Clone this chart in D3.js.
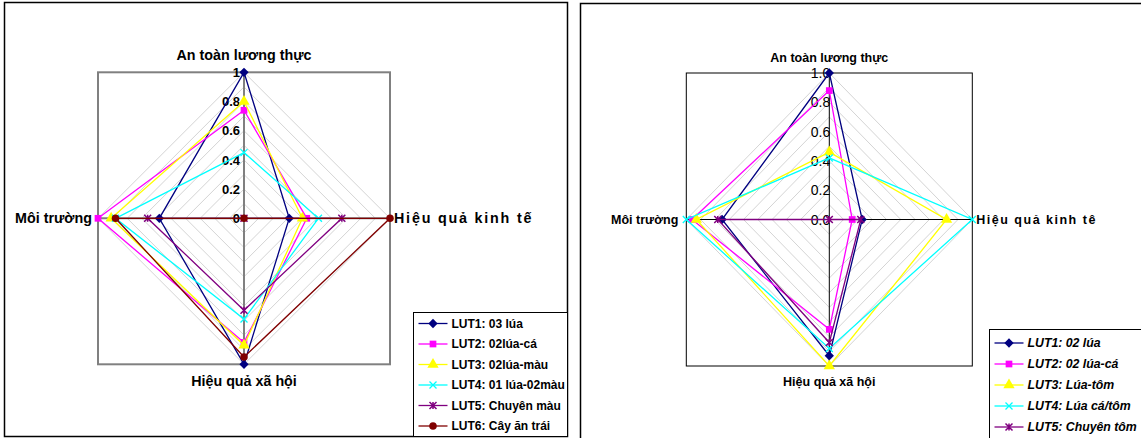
<!DOCTYPE html>
<html>
<head>
<meta charset="utf-8">
<script src="https://cdn.jsdelivr.net/npm/d3@7"></script>
<style>
  html, body { margin: 0; padding: 0; background: #fff; }
  svg { display: block; font-family: "Liberation Sans", Arial, sans-serif; }
</style>
</head>
<body>
<svg id="chart" width="1141" height="438"></svg>
<script>
// Axis names (clockwise from the top)
const axesLeft  = ["An toàn lương thực", "Hiệu quả kinh tế", "Hiệu quả xã hội", "Môi trường"];
const axesRight = ["An toàn lương thực", "Hiệu quả kinh tê", "Hiệu quả xã hội", "Môi trường"];

// Left chart series
const seriesLeft = ["LUT1: 03 lúa", "LUT2: 02lúa-cá", "LUT3: 02lúa-màu", "LUT4: 01 lúa-02màu", "LUT5: Chuyên màu", "LUT6: Cây ăn trái"];
const lut1Left = [1.00, 0.31, 1.00, 0.58];
const lut2Left = [0.74, 0.43, 0.85, 1.00];
const lut3Left = [0.80, 0.40, 0.87, 0.91];
const lut4Left = [0.45, 0.51, 0.69, 0.88];
const lut5Left = [0.00, 0.67, 0.63, 0.66];
const lut6Left = [0.00, 1.00, 0.95, 0.88];

// Right chart series
const seriesRight = ["LUT1: 02 lúa", "LUT2: 02 lúa-cá", "LUT3: Lúa-tôm", "LUT4: Lúa cá/tôm", "LUT5: Chuyên tôm"];
const lut1Right = [1.00, 0.23, 0.93, 0.75];
const lut2Right = [0.88, 0.16, 0.75, 0.96];
const lut3Right = [0.46, 0.82, 1.00, 0.93];
const lut4Right = [0.42, 1.00, 0.88, 1.00];
const lut5Right = [0.00, 0.22, 0.84, 0.78];

// Tick labels
const ticksLeft  = ["0", "0.2", "0.4", "0.6", "0.8", "1"];
const ticksRight = ["0.0", "0.2", "0.4", "0.6", "0.8", "1.0"];
const tickValues = [0, 0.2, 0.4, 0.6, 0.8, 1.0];
const gridValues = [0.1, 0.2, 0.3, 0.4, 0.5, 0.6, 0.7, 0.8, 0.9, 1.0];

const colors  = ["#000080", "#FF00FF", "#FFFF00", "#00FFFF", "#800080", "#800000"];
const symbols = [d3.symbolDiamond2, d3.symbolSquare, d3.symbolTriangle, "cross", "star", d3.symbolCircle];

const svg = d3.select("#chart");

// Outer chart frames
svg.append("rect").attr("x", 4.5).attr("y", 2.5).attr("width", 563).attr("height", 434)
  .attr("fill", "none").attr("stroke", "#000").attr("stroke-width", 1.5);
svg.append("rect").attr("x", 580.5).attr("y", 3.5).attr("width", 570).attr("height", 440)
  .attr("fill", "none").attr("stroke", "#000").attr("stroke-width", 1.5);

function drawMarker(g, kind, color, x, y) {
  if (kind === "cross") {
    const s = 3.5;
    g.append("path").attr("d", `M${x - s},${y - s}L${x + s},${y + s}M${x - s},${y + s}L${x + s},${y - s}`)
      .attr("stroke", color).attr("stroke-width", 1.3).attr("fill", "none");
  } else if (kind === "star") {
    const s = 3.5;
    g.append("path").attr("d", `M${x - s},${y - s}L${x + s},${y + s}M${x - s},${y + s}L${x + s},${y - s}M${x},${y - s}L${x},${y + s}`)
      .attr("stroke", color).attr("stroke-width", 1.5).attr("fill", "none");
  } else {
    const size = kind === d3.symbolTriangle ? 55 : (kind === d3.symbolDiamond2 ? 55 : 45);
    g.append("path").attr("d", d3.symbol().type(kind).size(size)())
      .attr("transform", `translate(${x},${y})`).attr("fill", color).attr("stroke", "none");
  }
}

function radar(cfg) {
  const g = svg.append("g");
  const { cx, cy, rx, ry } = cfg;
  const sx = d3.scaleLinear().domain([0, 1]).range([0, rx]);
  const sy = d3.scaleLinear().domain([0, 1]).range([0, ry]);
  // axis direction: top, right, bottom, left
  const dirs = [[0, -1], [1, 0], [0, 1], [-1, 0]];
  const pt = (v, i) => [cx + dirs[i][0] * sx(v), cy + dirs[i][1] * sy(v)];

  // plot frame
  g.append("rect").attr("x", cx - rx).attr("y", cy - ry).attr("width", 2 * rx).attr("height", 2 * ry)
    .attr("fill", "none").attr("stroke", cfg.frameColor).attr("stroke-width", cfg.frameWidth);

  // gridline diamonds
  g.selectAll(".grid").data(gridValues).join("path")
    .attr("d", v => d3.line()([0, 1, 2, 3, 0].map(i => pt(v, i))))
    .attr("fill", "none").attr("stroke", "#d4d4d4").attr("stroke-width", 1);

  // spokes
  [0, 1, 2, 3].forEach(i => {
    const p = pt(1, i);
    g.append("line").attr("x1", cx).attr("y1", cy).attr("x2", p[0]).attr("y2", p[1])
      .attr("stroke", cfg.spokeColor).attr("stroke-width", cfg.spokeWidth);
  });

  // tick labels along the top spoke
  g.selectAll(".tick").data(tickValues).join("text")
    .attr("x", cx + cfg.tickDx).attr("y", v => cy - sy(v))
    .attr("dy", "0.36em").attr("text-anchor", "end")
    .attr("font-size", cfg.tickSize).attr("font-weight", cfg.tickWeight).attr("fill", "#000")
    .text((v, i) => cfg.ticks[i]);

  // series
  cfg.data.forEach((vals, k) => {
    const pts = vals.map((v, i) => pt(v, i));
    g.append("path").attr("d", d3.line()([...pts, pts[0]]))
      .attr("fill", "none").attr("stroke", colors[k]).attr("stroke-width", 1.3);
    pts.forEach(p => drawMarker(g, symbols[k], colors[k], p[0], p[1]));
  });

  // axis names
  const lab = cfg.labels;
  const fs = cfg.labelSize;
  g.append("text").attr("x", cx).attr("y", cy - ry - cfg.topGap).attr("text-anchor", "middle")
    .attr("font-size", fs).attr("font-weight", "bold").text(lab[0]);
  g.append("text").attr("x", cx + rx + 4).attr("y", cy).attr("dy", "0.36em").attr("text-anchor", "start")
    .attr("font-size", fs).attr("font-weight", "bold").attr("letter-spacing", cfg.wideSpacing)
    .text(lab[1]);
  g.append("text").attr("x", cx).attr("y", cy + ry + cfg.bottomGap).attr("text-anchor", "middle")
    .attr("font-size", fs).attr("font-weight", "bold").text(lab[2]);
  g.append("text").attr("x", cx - rx - cfg.leftGap).attr("y", cy).attr("dy", "0.36em").attr("text-anchor", "end")
    .attr("font-size", fs).attr("font-weight", "bold").text(lab[3]);

  // legend
  const L = cfg.legend;
  const lg = svg.append("g");
  lg.append("rect").attr("x", L.x).attr("y", L.y).attr("width", L.w).attr("height", L.h)
    .attr("fill", "#fff").attr("stroke", "#000").attr("stroke-width", 1);
  cfg.names.forEach((name, k) => {
    const y = L.y + L.first + k * L.step;
    lg.append("line").attr("x1", L.x + 5).attr("x2", L.x + 34).attr("y1", y).attr("y2", y)
      .attr("stroke", colors[k]).attr("stroke-width", 1.3);
    drawMarker(lg, symbols[k], colors[k], L.x + 19.5, y);
    lg.append("text").attr("x", L.x + 38).attr("y", y).attr("dy", "0.36em")
      .attr("font-size", L.fs).attr("font-weight", "bold").attr("font-style", L.style)
      .text(name);
  });
}

radar({
  cx: 244, cy: 218.3, rx: 146, ry: 146,
  frameColor: "#808080", frameWidth: 2,
  spokeColor: "#808080", spokeWidth: 2,
  ticks: ticksLeft, tickDx: -4, tickSize: 13, tickWeight: "bold",
  data: [lut1Left, lut2Left, lut3Left, lut4Left, lut5Left, lut6Left],
  labels: axesLeft, labelSize: 14.3, topGap: 12, bottomGap: 22, leftGap: 6, wideSpacing: 1.8,
  names: seriesLeft,
  legend: { x: 413.5, y: 312.5, w: 154, h: 124, first: 11, step: 20.5, fs: 12, style: "normal" }
});

radar({
  cx: 829.3, cy: 219.5, rx: 143, ry: 146.5,
  frameColor: "#000", frameWidth: 1,
  spokeColor: "#000", spokeWidth: 1,
  ticks: ticksRight, tickDx: 1, tickSize: 14, tickWeight: "normal",
  data: [lut1Right, lut2Right, lut3Right, lut4Right, lut5Right],
  labels: axesRight, labelSize: 12.5, topGap: 11, bottomGap: 20, leftGap: 8, wideSpacing: 1.5,
  names: seriesRight,
  legend: { x: 989.5, y: 329.5, w: 160, h: 115, first: 13.5, step: 21, fs: 12.3, style: "italic" }
});
</script>
</body>
</html>
